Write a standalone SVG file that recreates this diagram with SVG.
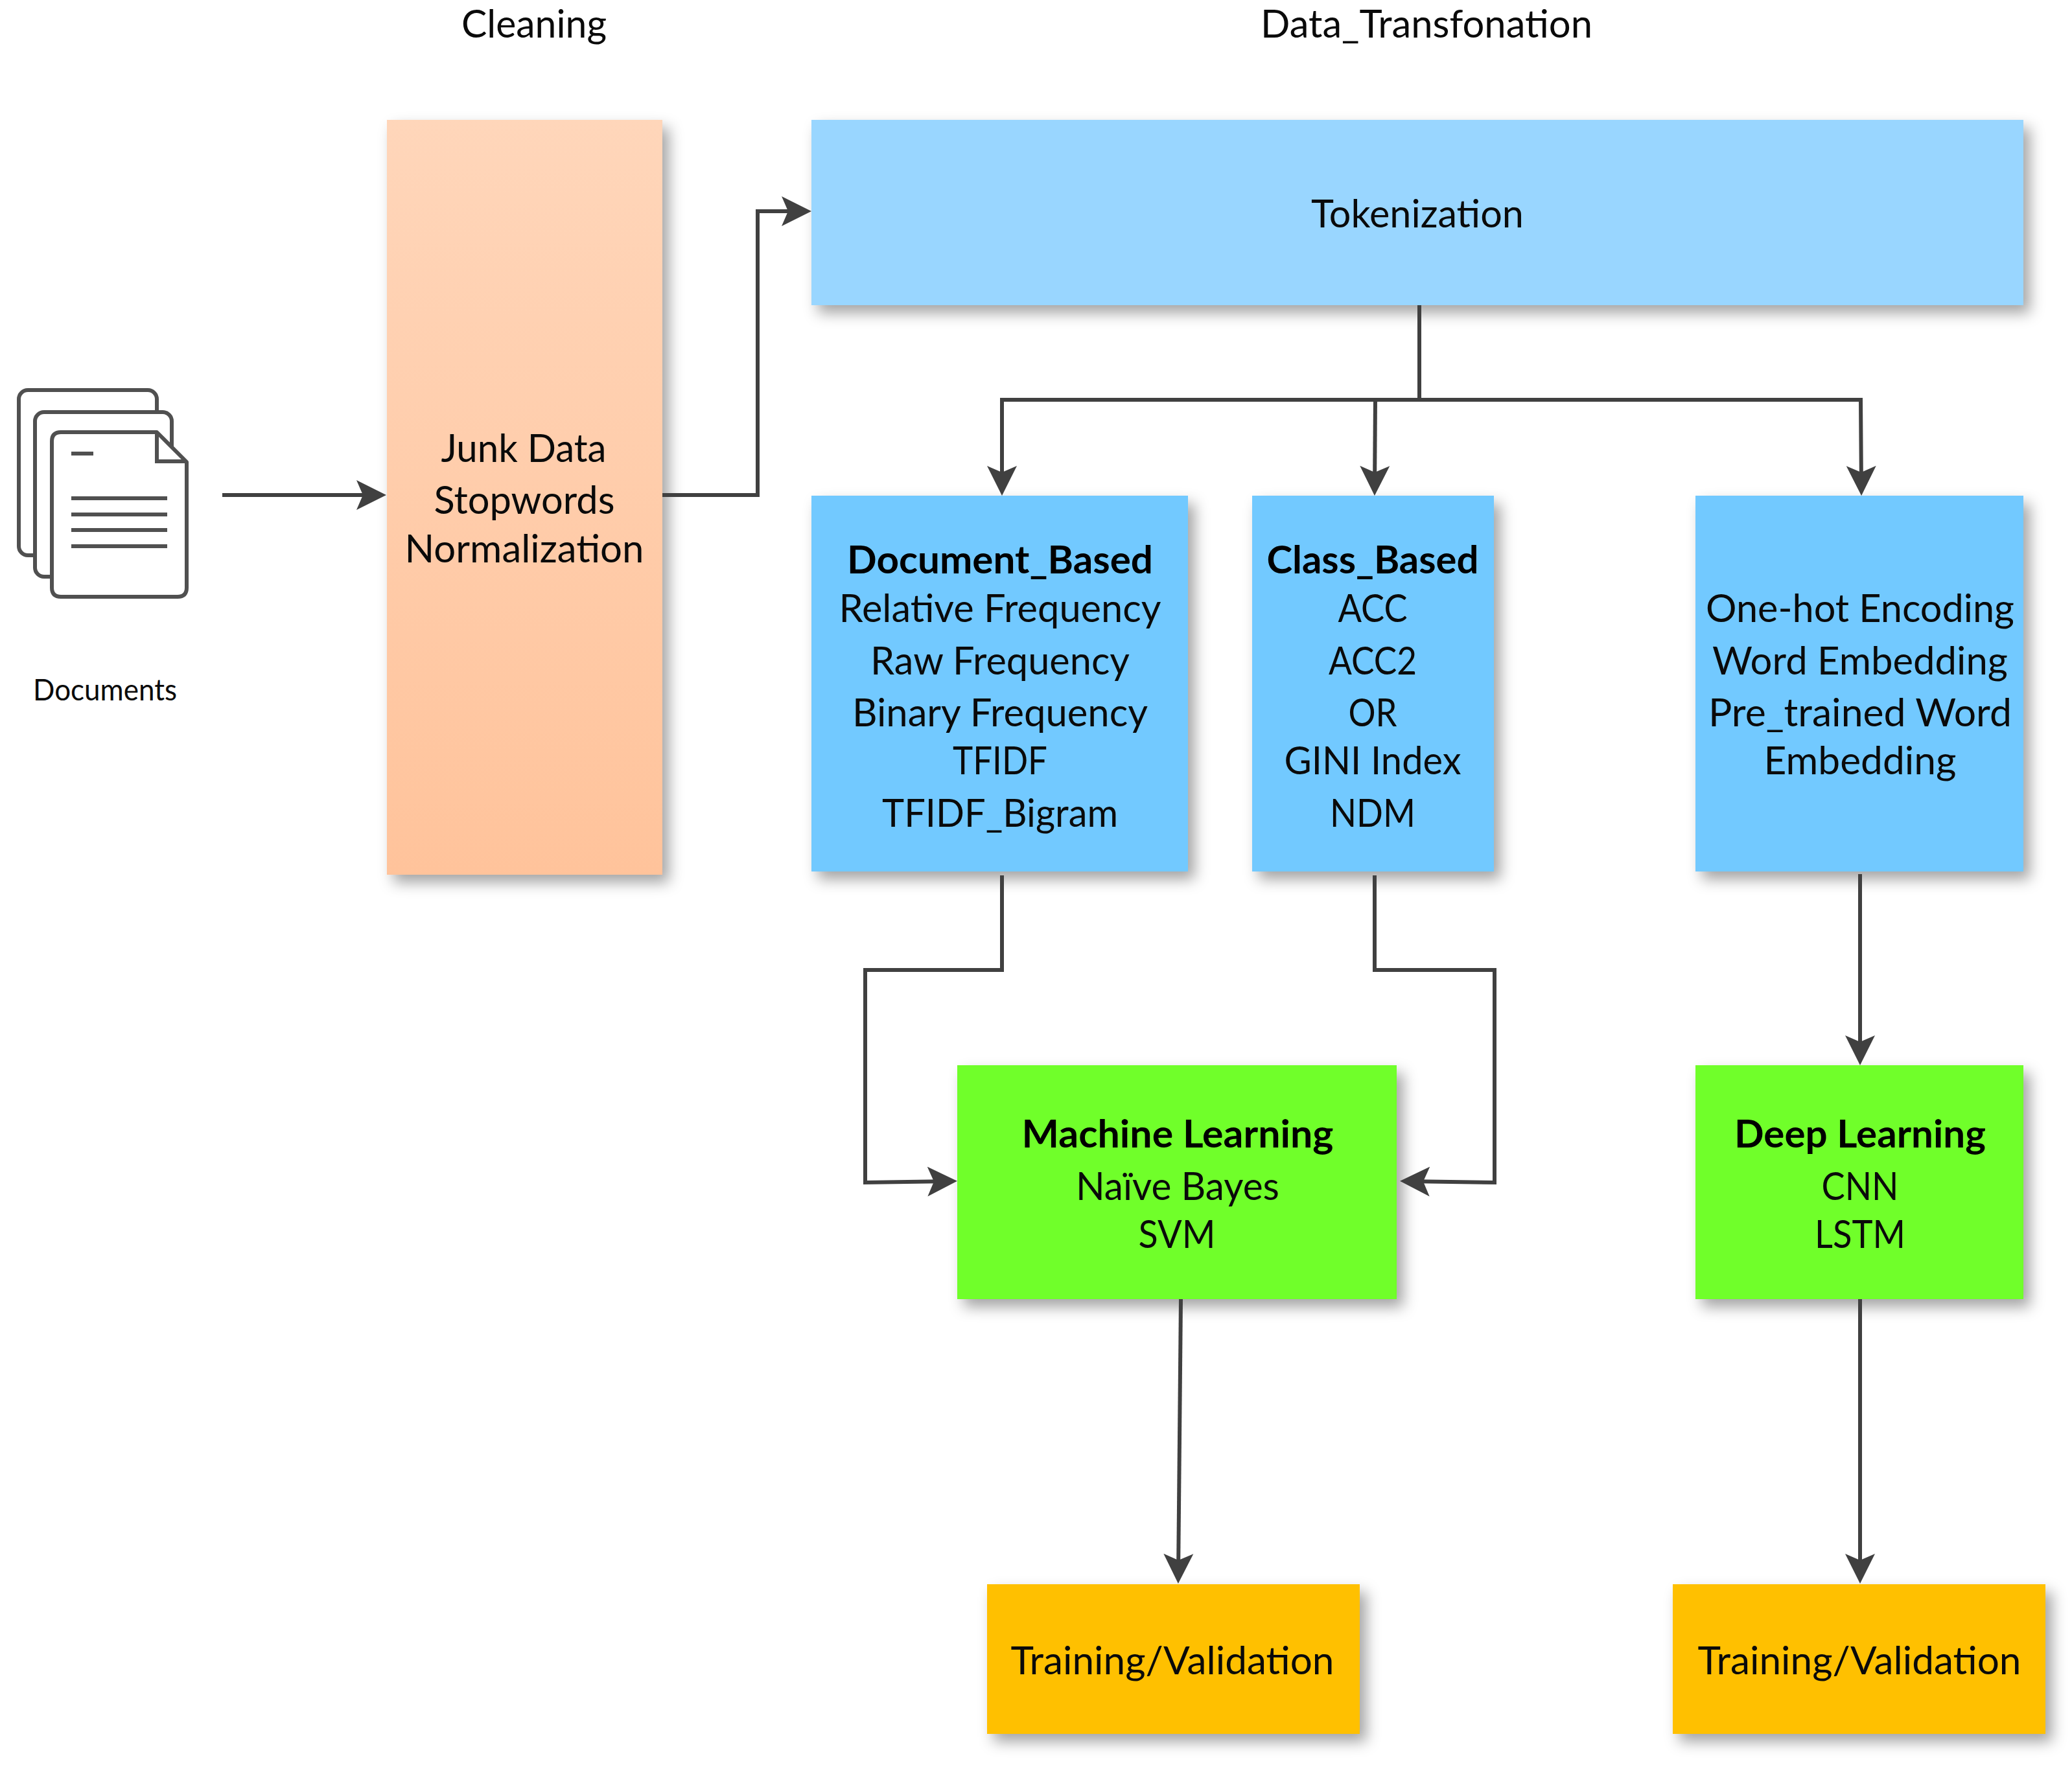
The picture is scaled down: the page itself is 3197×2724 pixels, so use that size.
<svg xmlns="http://www.w3.org/2000/svg" width="3197" height="2724" viewBox="0 0 3197 2724">
<style>
text{font-family:Lato,"Open Sans","Liberation Sans",sans-serif;font-size:60px;fill:#0a0a0a;text-anchor:middle}
.b{font-weight:700;fill:#000}
.box{filter:url(#sh)}
.con{fill:none;stroke:#404040;stroke-width:6;stroke-linejoin:miter;marker-end:url(#arr)}
.plain{fill:none;stroke:#404040;stroke-width:6}
.ic{fill:#fff;stroke:#505050;stroke-width:6;stroke-linejoin:round}
.il{fill:none;stroke:#505050;stroke-width:6}
</style>
<defs>
<linearGradient id="og" x1="0" y1="0" x2="0" y2="1"><stop offset="0" stop-color="#FFD6BA"/><stop offset="1" stop-color="#FFC39B"/></linearGradient>
<filter id="sh" x="-10%" y="-10%" width="125%" height="130%"><feDropShadow dx="10" dy="12" stdDeviation="11" flood-color="#000" flood-opacity="0.36"/></filter>
<marker id="arr" markerUnits="userSpaceOnUse" markerWidth="50" markerHeight="50" refX="36" refY="25" orient="auto"><path d="M0 2 L46 25 L0 48 L10 25Z" fill="#404040"/></marker>
</defs>
<rect width="3197" height="2724" fill="#fff"/>
<text x="824" y="58" textLength="224" lengthAdjust="spacingAndGlyphs">Cleaning</text>
<text x="2201" y="58" textLength="512" lengthAdjust="spacingAndGlyphs">Data_Transfonation</text>
<g id="documents">
<rect class="ic" x="29" y="602" width="213" height="255" rx="14"/>
<rect class="ic" x="54" y="636" width="211" height="254" rx="14"/>
<path class="ic" d="M94 667H242L288 713V907Q288 921 274 921H94Q80 921 80 907V681Q80 667 94 667Z"/>
<path class="il" d="M242 667V712H288M110 700H144M110 769H258M110 794H258M110 818H258M110 843H258"/>
<text x="162" y="1081" style="font-size:46px" textLength="222" lengthAdjust="spacingAndGlyphs">Documents</text>
</g>
<g id="cleaning">
<rect class="box" x="597" y="185" width="425" height="1165" fill="url(#og)"/>
<text x="808" y="713" textLength="255" lengthAdjust="spacingAndGlyphs">Junk Data</text>
<text x="809" y="793" textLength="279" lengthAdjust="spacingAndGlyphs">Stopwords</text>
<text x="809" y="868" textLength="369" lengthAdjust="spacingAndGlyphs">Normalization</text>
</g>
<g id="tokenization">
<rect class="box" x="1252" y="185" width="1870" height="286" fill="#99D6FF"/>
<text x="2187" y="351" textLength="328" lengthAdjust="spacingAndGlyphs">Tokenization</text>
</g>
<g id="document-based">
<rect class="box" x="1252" y="765" width="581" height="580" fill="#72C9FF"/>
<text class="b" x="1543" y="885" textLength="472" lengthAdjust="spacingAndGlyphs">Document_Based</text>
<text x="1543" y="960" textLength="497" lengthAdjust="spacingAndGlyphs">Relative Frequency</text>
<text x="1543" y="1041" textLength="400" lengthAdjust="spacingAndGlyphs">Raw Frequency</text>
<text x="1543" y="1121" textLength="456" lengthAdjust="spacingAndGlyphs">Binary Frequency</text>
<text x="1543" y="1195" textLength="146" lengthAdjust="spacingAndGlyphs">TFIDF</text>
<text x="1543" y="1276" textLength="364" lengthAdjust="spacingAndGlyphs">TFIDF_Bigram</text>
</g>
<g id="class-based">
<rect class="box" x="1932" y="765" width="373" height="580" fill="#72C9FF"/>
<text class="b" x="2118" y="885" textLength="327" lengthAdjust="spacingAndGlyphs">Class_Based</text>
<text x="2118" y="960" textLength="107" lengthAdjust="spacingAndGlyphs">ACC</text>
<text x="2118" y="1041" textLength="136" lengthAdjust="spacingAndGlyphs">ACC2</text>
<text x="2118" y="1121" textLength="75" lengthAdjust="spacingAndGlyphs">OR</text>
<text x="2118" y="1195" textLength="273" lengthAdjust="spacingAndGlyphs">GINI Index</text>
<text x="2118" y="1276" textLength="132" lengthAdjust="spacingAndGlyphs">NDM</text>
</g>
<g id="embedding">
<rect class="box" x="2616" y="765" width="506" height="580" fill="#72C9FF"/>
<text x="2870" y="960" textLength="476" lengthAdjust="spacingAndGlyphs">One-hot Encoding</text>
<text x="2870" y="1041" textLength="456" lengthAdjust="spacingAndGlyphs">Word Embedding</text>
<text x="2870" y="1121" textLength="468" lengthAdjust="spacingAndGlyphs">Pre_trained Word</text>
<text x="2870" y="1195" textLength="297" lengthAdjust="spacingAndGlyphs">Embedding</text>
</g>
<g id="machine-learning">
<rect class="box" x="1477" y="1644" width="678" height="361" fill="#70FF2B"/>
<text class="b" x="1817" y="1771" textLength="481" lengthAdjust="spacingAndGlyphs">Machine Learning</text>
<text x="1817" y="1852" textLength="314" lengthAdjust="spacingAndGlyphs">Naïve Bayes</text>
<text x="1816" y="1926" textLength="119" lengthAdjust="spacingAndGlyphs">SVM</text>
</g>
<g id="deep-learning">
<rect class="box" x="2616" y="1644" width="506" height="361" fill="#70FF2B"/>
<text class="b" x="2870" y="1771" textLength="388" lengthAdjust="spacingAndGlyphs">Deep Learning</text>
<text x="2870" y="1852" textLength="119" lengthAdjust="spacingAndGlyphs">CNN</text>
<text x="2870" y="1926" textLength="140" lengthAdjust="spacingAndGlyphs">LSTM</text>
</g>
<g id="training-ml">
<rect class="box" x="1523" y="2445" width="575" height="231" fill="#FFC000"/>
<text x="1809" y="2584" textLength="499" lengthAdjust="spacingAndGlyphs">Training/Validation</text>
</g>
<g id="training-dl">
<rect class="box" x="2581" y="2445" width="575" height="231" fill="#FFC000"/>
<text x="2869" y="2584" textLength="499" lengthAdjust="spacingAndGlyphs">Training/Validation</text>
</g>
<g id="connectors">
<path class="con" d="M343 764H586"/>
<path class="con" d="M1022 764H1169V326H1242"/>
<path class="plain" d="M2190 471V617"/>
<path class="con" d="M2192 617H1546V755"/>
<path class="con" d="M2122 617L2121 755"/>
<path class="con" d="M2190 617H2871L2872 755"/>
<path class="con" d="M1546 1351V1497H1335V1825L1467 1823"/>
<path class="con" d="M2121 1351V1497H2306V1825L2170 1823"/>
<path class="con" d="M2870 1349V1634"/>
<path class="con" d="M1822 2005L1818 2434"/>
<path class="con" d="M2870 2005V2434"/>
</g>
</svg>
